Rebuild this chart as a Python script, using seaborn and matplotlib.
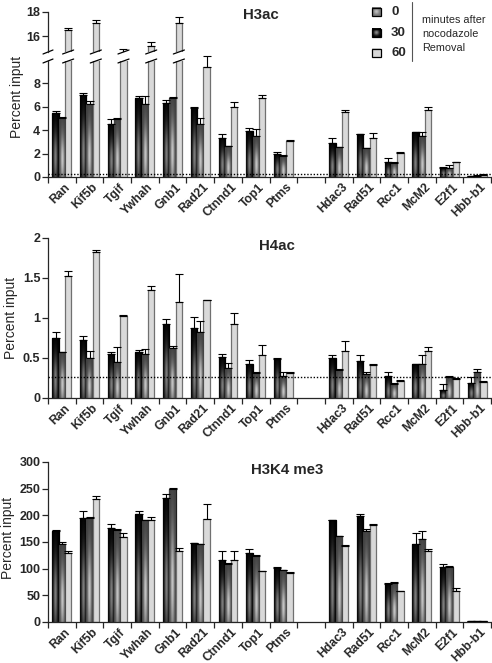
import numpy as np
import pandas as pd
import matplotlib
matplotlib.use("Agg")
import matplotlib.pyplot as plt
import seaborn as sns
from matplotlib.patches import Rectangle
from matplotlib.transforms import blended_transform_factory, ScaledTranslation

sns.set_style("ticks")
plt.rcParams["font.family"] = ["Liberation Sans", "DejaVu Sans"]

W, H = 492, 663

genes = ["Ran", "Kif5b", "Tgif", "Ywhah", "Gnb1", "Rad21", "Ctnnd1", "Top1", "Ptms",
         "Hdac3", "Rad51", "Rcc1", "McM2", "E2f1", "Hbb-b1"]
slots = genes[:9] + [" "] + genes[9:]
times = ["0", "30", "60"]

# H3ac values and upward error (percent input)
h3ac_0 = [5.42, 6.98, 4.54, 6.70, 6.32, 5.90, 3.35, 3.91, 1.98, 2.87, 3.63, 1.28, 3.83, 0.79, 0.05]
h3ac_30 = [5.05, 6.19, 4.91, 6.24, 6.75, 4.54, 2.64, 3.49, 1.79, 2.55, 2.44, 1.22, 3.49, 0.74, 0.12]
h3ac_60 = [16.5, 17.06, 14.5, 15.17, 17.06, 9.39, 5.96, 6.75, 3.06, 5.56, 3.35, 2.07, 5.70, 1.28, 0.18]
h3ac_e0 = [0.18, 0.19, 0.37, 0.20, 0.28, 0.05, 0.28, 0.29, 0.17, 0.48, 0.05, 0.31, 0.05, 0.03, 0.03]
h3ac_e30 = [0.03, 0.28, 0.14, 0.66, 0.05, 0.46, 0.04, 0.57, 0.06, 0.05, 0.04, 0.03, 0.34, 0.28, 0.03]
h3ac_e60 = [0.14, 0.27, 0.38, 0.33, 0.54, 0.91, 0.45, 0.29, 0.14, 0.14, 0.42, 0.03, 0.26, 0.02, 0.04]

# H4ac
h4ac_0 = [0.746, 0.725, 0.55, 0.57, 0.92, 0.87, 0.51, 0.43, 0.49, 0.50, 0.465, 0.27, 0.42, 0.10, 0.19]
h4ac_30 = [0.57, 0.50, 0.45, 0.55, 0.62, 0.82, 0.38, 0.31, 0.27, 0.35, 0.30, 0.18, 0.43, 0.26, 0.32]
h4ac_60 = [1.53, 1.82, 1.03, 1.35, 1.20, 1.22, 0.92, 0.54, 0.31, 0.59, 0.41, 0.21, 0.59, 0.24, 0.20]
h4ac_e0 = [0.08, 0.055, 0.02, 0.03, 0.07, 0.14, 0.04, 0.04, 0.01, 0.04, 0.075, 0.06, 0.01, 0.08, 0.07]
h4ac_e30 = [0.01, 0.09, 0.19, 0.06, 0.03, 0.14, 0.06, 0.01, 0.05, 0.01, 0.03, 0.01, 0.11, 0.01, 0.04]
h4ac_e60 = [0.06, 0.03, 0.01, 0.05, 0.35, 0.01, 0.14, 0.12, 0.02, 0.12, 0.01, 0.01, 0.05, 0.01, 0.01]

# H3K4 me3
k4_0 = [170, 195, 177, 203, 232.5, 148, 117, 130, 102, 190.6, 198, 72, 145.6, 104, 1]
k4_30 = [145.6, 195, 173, 191, 250, 145.6, 109, 123, 97, 161, 170, 73, 156, 103, 1]
k4_60 = [130, 230, 159, 191, 133, 194, 117, 95, 92.5, 142, 181, 58, 132.5, 58, 1]
k4_e0 = [2, 14, 7, 6, 8, 1, 15.5, 6, 2, 0.5, 5, 2, 21, 5, 0]
k4_e30 = [4.4, 1, 2, 1, 1, 1.4, 1, 2, 1, 1, 5, 2.6, 14, 2, 0]
k4_e60 = [4, 7, 8, 5, 6, 28, 15.5, 1, 1, 2, 2, 1, 5, 6, 0]

faces = {"0": "#000000", "30": "#4a4a4a", "60": "#d9d9d9"}
edges = {"0": "#000000", "30": "#1e1e1e", "60": "#707070"}
glow = {"0": (0.0, 0.5), "30": (0.25, 0.78)}


def long_table(v0, v30, v60, e0, e30, e60):
    rows = []
    for t, vals, errs in zip(times, (v0, v30, v60), (e0, e30, e60)):
        for g, v, e in zip(genes, vals, errs):
            rows.append({"gene": g, "time": t, "value": v, "err": e})
    return pd.DataFrame(rows)


def px_axes(fig, top, bottom, left=48, right=491):
    return fig.add_axes([left / W, 1 - bottom / H, (right - left) / W, (bottom - top) / H])


def shade(ax, bar, dark, light):
    x0, w = bar.get_x(), bar.get_width()
    h = bar.get_height()
    ylo, yhi = ax.get_ylim()
    top = min(h, yhi)
    if top <= ylo:
        return
    u = np.linspace(-1, 1, 24)
    v = np.linspace(0, 1, 160)
    g = np.exp(-(u / 0.6) ** 2)[None, :] * np.exp(-((v - 0.3) / 0.4) ** 2)[:, None]
    level = dark + (light - dark) * g
    img = np.dstack([level, level, level])
    im = ax.imshow(img, extent=(x0, x0 + w, ylo, top), origin="lower", aspect="auto",
                   interpolation="bilinear", zorder=bar.get_zorder() + 0.1)
    im.set_clip_path(bar)


def draw_bars(ax, df, ylim, lower_break=False):
    sns.barplot(data=df, x="gene", y="value", hue="time", order=slots, hue_order=times,
                palette=faces, width=0.68, errorbar=None, legend=False, saturation=1,
                linewidth=0.9, ax=ax)
    ax.set_autoscale_on(False)
    ax.set_xlim(-0.5, len(slots) - 0.5)
    ax.set_ylim(*ylim)
    for t, cont in zip(times, ax.containers):
        xs, ys, es = [], [], []
        for bar in cont:
            bar.set_edgecolor(edges[t])
            bar.set_zorder(2)
            if t in glow:
                shade(ax, bar, *glow[t])
            xc = bar.get_x() + bar.get_width() / 2
            g = slots[int(round(xc))]
            row = df[(df.gene == g) & (df.time == t)].iloc[0]
            xs.append(xc)
            ys.append(row.value)
            es.append(row.err)
        xs, ys, es = map(np.array, (xs, ys, es))
        inside = ys < ylim[1]
        for mask, clip in ((inside, not lower_break), (~inside, True)):
            if mask.any():
                ax.errorbar(xs[mask], ys[mask], yerr=[np.zeros(mask.sum()), es[mask]], fmt="none",
                            ecolor="black", elinewidth=0.8, capsize=2.6, capthick=0.8,
                            zorder=4, clip_on=clip)
    sns.despine(ax=ax)
    ax.spines["left"].set_linewidth(0.9)
    ax.spines["bottom"].set_linewidth(0.9)
    ax.set_xlabel("")
    ax.set_ylabel("")


def gene_ticks(ax):
    ax.set_xticks(np.arange(-0.5, len(slots), 1))
    ax.set_xticklabels([])
    ax.set_xticks(np.arange(len(slots)), labels=slots, minor=True)
    ax.tick_params(axis="x", which="major", length=4, width=0.9)
    ax.tick_params(axis="x", which="minor", length=0, pad=3)
    nudge = ScaledTranslation(2.5 / 100, 0, ax.figure.dpi_scale_trans)
    for lab in ax.get_xticklabels(minor=True):
        lab.set_rotation(45)
        lab.set_ha("right")
        lab.set_va("top")
        lab.set_rotation_mode("anchor")
        lab.set_fontweight("bold")
        lab.set_fontsize(8.7)
        lab.set_transform(lab.get_transform() + nudge)


def y_style(ax, ticks, labels):
    ax.set_yticks(ticks, labels=labels)
    ax.tick_params(axis="y", length=4, width=0.9, pad=1.5, labelsize=9)
    for lab in ax.get_yticklabels():
        lab.set_fontweight("bold")


fig = plt.figure(figsize=(W / 100, H / 100), dpi=100)

# H3ac: broken axis
h3 = long_table(h3ac_0, h3ac_30, h3ac_60, h3ac_e0, h3ac_e30, h3ac_e60)
ax_up = px_axes(fig, 12, 52)
ax_lo = px_axes(fig, 61, 177)
draw_bars(ax_up, h3, (14.67, 18))
draw_bars(ax_lo, h3, (0, 9.9), lower_break=True)
ax_up.spines["bottom"].set_visible(False)
ax_up.set_xticks([])
ax_up.tick_params(axis="x", which="both", length=0, labelbottom=False)
y_style(ax_up, [16, 18], ["16", "18"])
y_style(ax_lo, [0, 2, 4, 6, 8], ["0", "2", "4", "6", "8"])
gene_ticks(ax_lo)
ax_lo.axhline(0.25, color="black", lw=1, ls=(0, (1, 1.3)), zorder=5)

# break marks on the axis and on the tall bars
for ax, yb, dy in ((ax_up, 0.0, 0.05), (ax_lo, 1.0, 0.017)):
    tr = blended_transform_factory(ax.transData, ax.transAxes)
    ax.plot([-0.68, -0.32], [yb - dy, yb + dy], color="black", lw=0.9, transform=tr, clip_on=False)
    cont = ax.containers[2]
    for bar in cont:
        xc = bar.get_x() + bar.get_width() / 2
        g = slots[int(round(xc))]
        val = h3[(h3.gene == g) & (h3.time == "60")].value.iloc[0]
        if val > 9.9:
            ax.plot([xc - 0.2, xc + 0.2], [yb - dy, yb + dy], color="black", lw=0.9,
                    transform=tr, clip_on=False, zorder=6)

# H4ac
h4 = long_table(h4ac_0, h4ac_30, h4ac_60, h4ac_e0, h4ac_e30, h4ac_e60)
ax4 = px_axes(fig, 238, 398)
draw_bars(ax4, h4, (0, 2))
y_style(ax4, [0, 0.5, 1, 1.5, 2], ["0", "0.5", "1", "1.5", "2"])
gene_ticks(ax4)
ax4.axhline(0.26, color="black", lw=1, ls=(0, (1, 1.3)), zorder=5)

# H3K4 me3
k4 = long_table(k4_0, k4_30, k4_60, k4_e0, k4_e30, k4_e60)
axk = px_axes(fig, 462, 622)
draw_bars(axk, k4, (0, 300))
y_style(axk, list(range(0, 301, 50)), [str(v) for v in range(0, 301, 50)])
gene_ticks(axk)

# overlay in pixel coordinates for titles, labels and legend
ov = fig.add_axes([0, 0, 1, 1])
ov.set_xlim(0, W)
ov.set_ylim(H, 0)
ov.axis("off")
ov.patch.set_visible(False)

ov.text(243, 19, "H3ac", fontsize=10.8, fontweight="bold", va="baseline")
ov.text(259, 250, "H4ac", fontsize=10.8, fontweight="bold", va="baseline")
ov.text(251, 474, "H3K4 me3", fontsize=10.8, fontweight="bold", va="baseline")
for xc, yc in ((17, 97), (11, 318), (8, 538)):
    ov.text(xc, yc, "Percent input", fontsize=10, rotation=90, ha="center", va="center")

legend_boxes = [("0", 12, 0.45, 0.75), ("30", 33, 0.0, 0.55), ("60", 53, 0.85, 0.85)]
u = np.linspace(-1, 1, 20)
rr = np.sqrt(u[None, :] ** 2 + u[:, None] ** 2)
for lab, yc, dark, light in legend_boxes:
    lvl = dark + (light - dark) * np.exp(-(rr / 0.6) ** 2)
    ov.imshow(np.dstack([lvl, lvl, lvl]), extent=(372, 380.5, yc + 4.2, yc - 4.2),
              interpolation="bilinear", aspect="auto", zorder=3)
    ov.add_patch(Rectangle((372, yc - 4.2), 8.5, 8.4, fill=False, ec="black", lw=0.9, zorder=4))
    ov.text(391, yc, lab, fontsize=9.5, fontweight="bold", va="center", ha="left")
ov.set_xlim(0, W)
ov.set_ylim(H, 0)
ov.plot([412, 412], [2, 61], color="#555555", lw=0.8)
for txt, yc in (("minutes after", 20), ("nocodazole", 34), ("Removal", 48)):
    ov.text(422, yc, txt, fontsize=7.8, va="center", ha="left")

fig.savefig("out.png", dpi=100)
